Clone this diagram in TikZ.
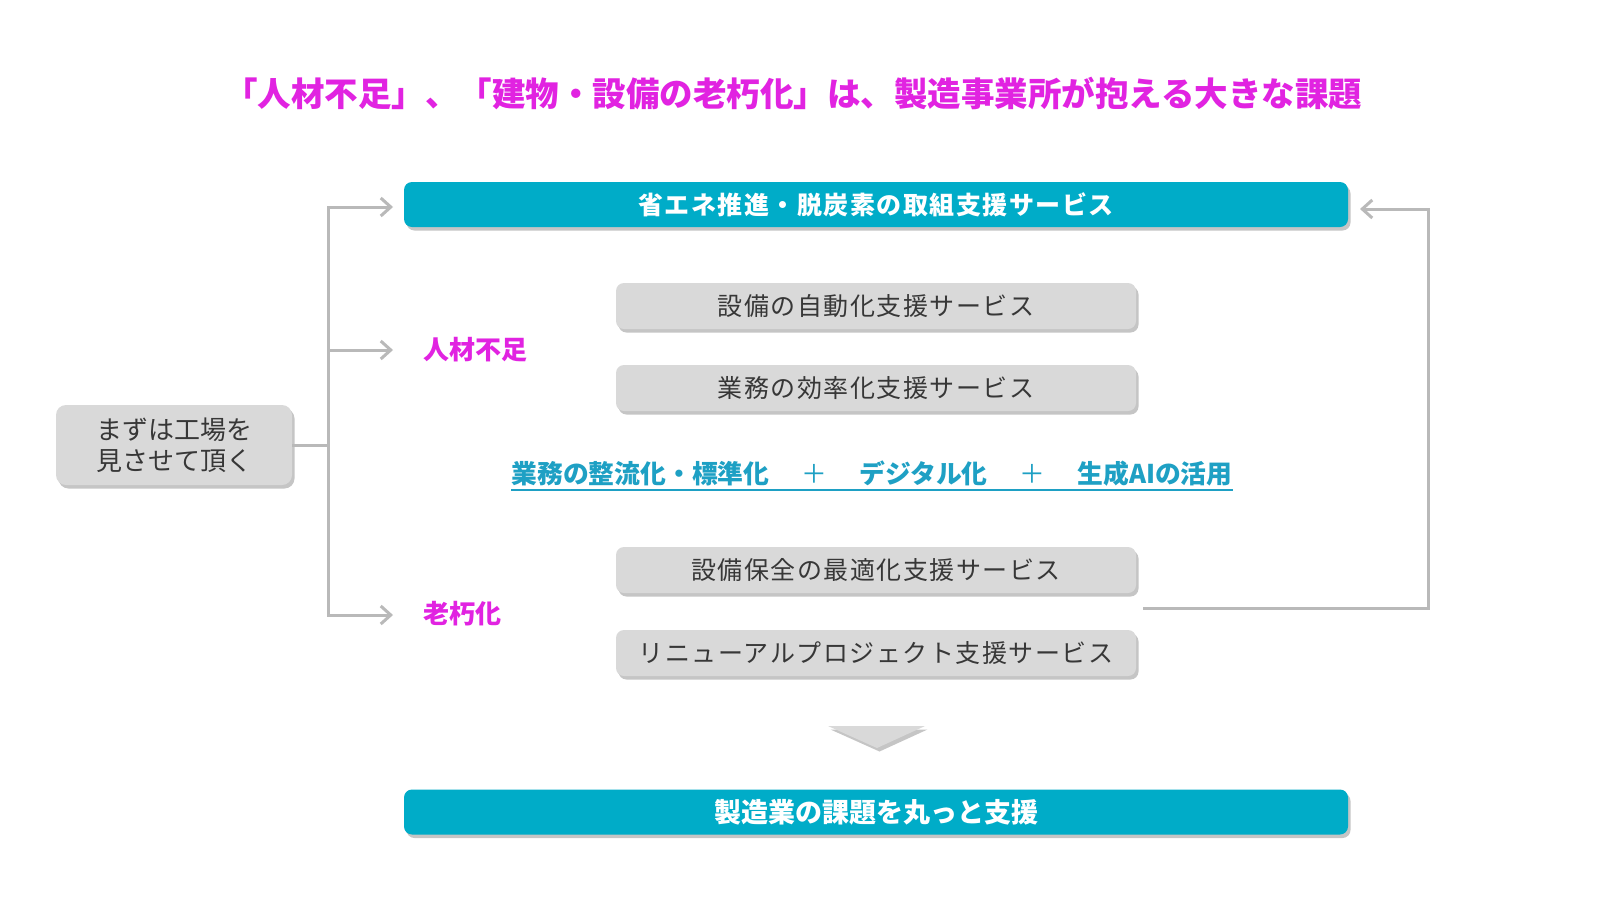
\documentclass[tikz,border=0pt]{standalone}
\usepackage{fontspec}
\setmainfont{Noto Sans CJK JP}
\newfontfamily\jpsp[LetterSpace=6]{Noto Sans CJK JP}
\usetikzlibrary{arrows.meta,shadows}

\definecolor{barteal}{RGB}{0,172,200}
\definecolor{linkteal}{RGB}{30,160,196}
\definecolor{pinktxt}{RGB}{225,35,225}
\definecolor{boxgray}{RGB}{217,217,217}
\definecolor{linegray}{RGB}{185,185,185}
\definecolor{txtgray}{RGB}{55,55,55}

\begin{document}
\begin{tikzpicture}[x=1pt,y=-1pt,>={Straight Barb[length=10pt,width=18pt]},
  shade/.style={drop shadow={shadow xshift=2.5pt,shadow yshift=-3.5pt,opacity=.45}},
  bar/.style={fill=barteal,rounded corners=8pt,minimum width=944pt,minimum height=45pt,
    text=white,font=\jpsp\fontsize{25}{28}\selectfont\bfseries,shade},
  svc/.style={fill=boxgray,rounded corners=8pt,minimum width=520pt,minimum height=46pt,
    text=txtgray,font=\jpsp\fontsize{25}{28}\selectfont,shade},
  lbl/.style={anchor=west,inner sep=0pt,text=pinktxt,font=\fontsize{26}{30}\selectfont\bfseries},
  conn/.style={draw=linegray,line width=3pt}]
  \fill[white] (0,0) rectangle (1600,900);
  \useasboundingbox (0,0) rectangle (1600,900);

  \node[text=pinktxt,font=\fontsize{33.5}{40}\selectfont\bfseries] (title) at (793,94)
    {「人材不足」、「建物・設備の老朽化」は、製造事業所が抱える大きな課題};

  \node[bar] (eco) at (876,204.5) {省エネ推進・脱炭素の取組支援サービス};
  \node[svc] (auto) at (876,306) {設備の自動化支援サービス};
  \node[svc] (eff) at (876,388) {業務の効率化支援サービス};
  \node[svc] (maint) at (876,570) {設備保全の最適化支援サービス};
  \node[svc] (renew) at (876,653) {リニューアルプロジェクト支援サービス};
  \node[bar,font=\fontsize{27}{30}\selectfont\bfseries] (total) at (876,812) {製造業の課題を丸っと支援};

  \node[fill=boxgray,rounded corners=10pt,minimum width=236pt,minimum height=80pt,align=center,
    text=txtgray,font=\fontsize{26}{31}\selectfont,shade] (visit) at (174,445)
    {まずは工場を\\見させて頂く};

  \node[lbl] (staff) at (423,350) {人材不足};
  \node[lbl] (aging) at (423,614) {老朽化};

  \node[inner sep=0pt,text=linkteal,font=\fontsize{25.8}{30}\selectfont\bfseries] (dx) at (872,474)
    {業務の整流化・標準化\hspace{32pt}{\mdseries ＋}\hspace{32pt}デジタル化\hspace{32pt}{\mdseries ＋}\hspace{32pt}生成AIの活用};
  \draw[linkteal,line width=1.6pt] ([yshift=-3pt]dx.south west) -- ([yshift=-3pt]dx.south east);

  % left tree
  \coordinate (trunk) at (328,445);
  \coordinate (tip1) at (393,207);
  \coordinate (tip2) at (393,350);
  \coordinate (tip3) at (393,615);
  \draw[conn] (visit.east) -- (trunk);
  \draw[conn,->] (trunk) |- (tip1);
  \draw[conn,->] (trunk) |- (tip2);
  \draw[conn,->] (trunk) |- (tip3);

  % loop back to the top bar
  \coordinate (back) at (1143,608);
  \coordinate (tip4) at (1360,209);
  \draw[conn,->] (back) -- (1428,608) |- (tip4);

  \fill[boxgray,shade] (828,726) -- (925,726) -- (877,748) -- cycle;
\end{tikzpicture}
\end{document}
